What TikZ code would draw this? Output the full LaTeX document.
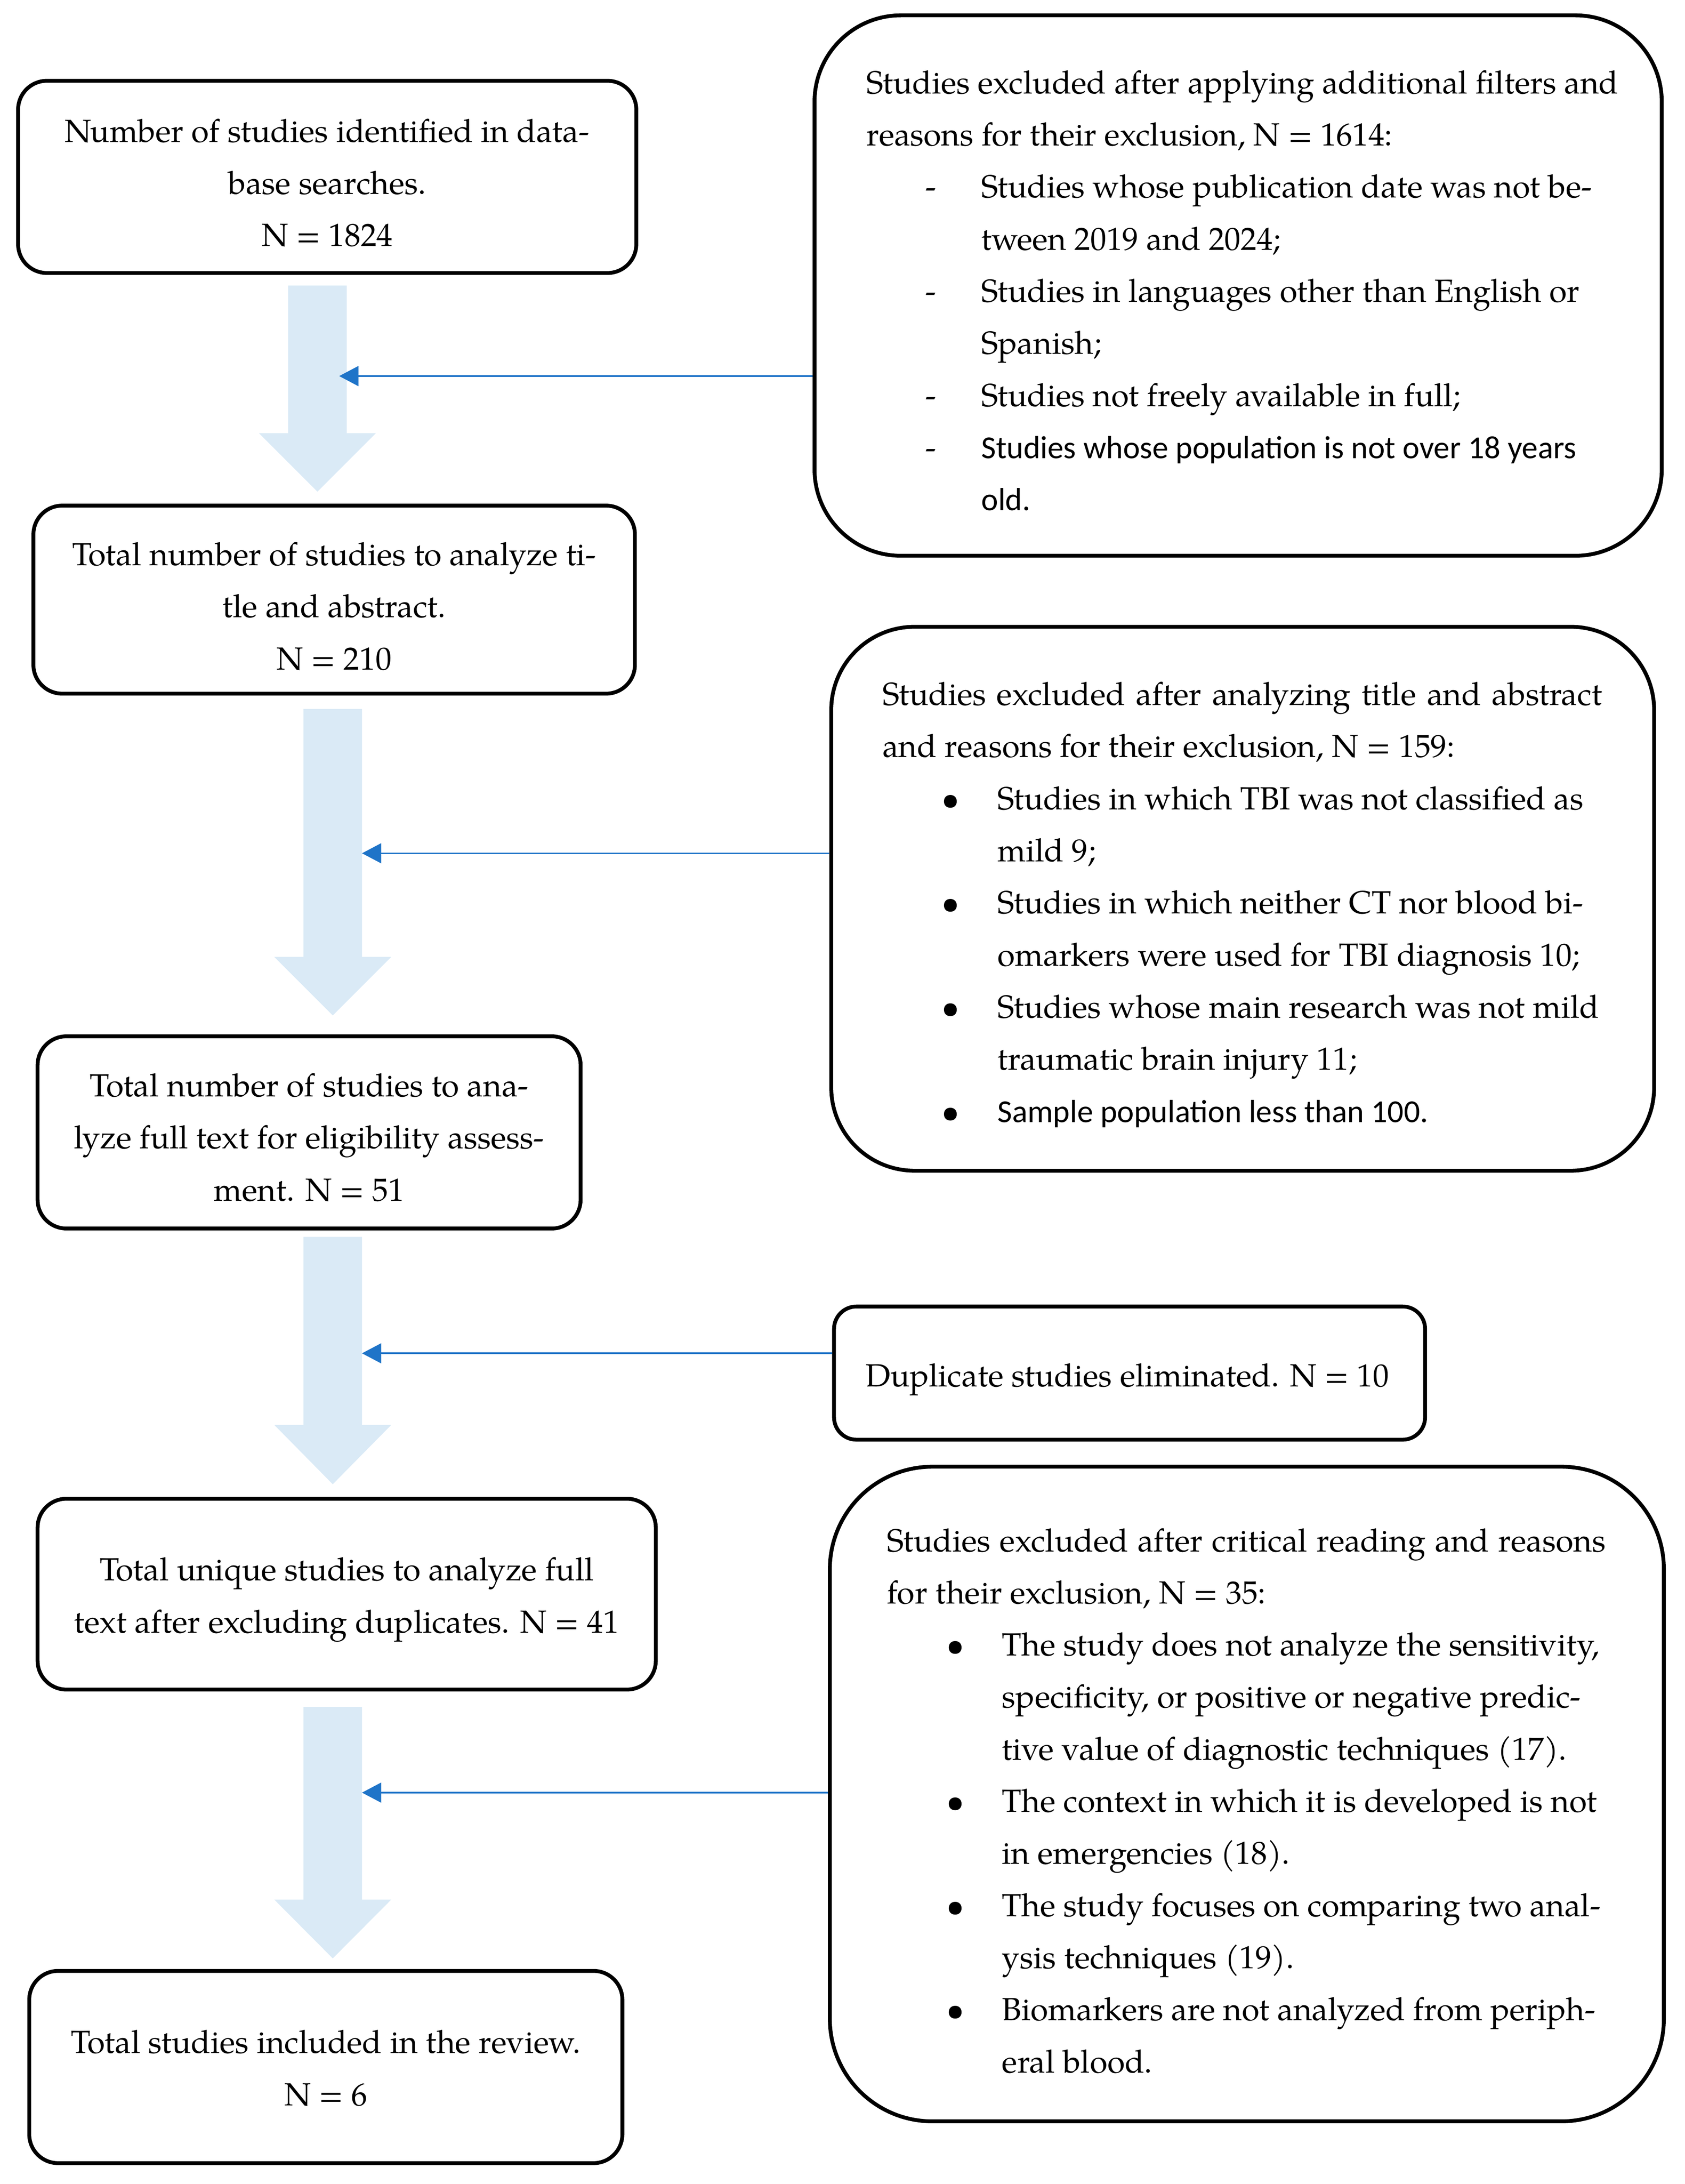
\documentclass[tikz,border=0pt]{standalone}
\usepackage{fontspec}
\setmainfont{texgyrepagella}[Extension=.otf, UprightFont=*-regular, BoldFont=*-bold, ItalicFont=*-italic, BoldItalicFont=*-bolditalic]
\newfontfamily\calibri{Carlito}
\usetikzlibrary{arrows.meta,fit}
\definecolor{flowblue}{HTML}{DAEAF6}
\definecolor{linkblue}{HTML}{1F74C8}
\newcommand\myitem[2]{\hspace*{18.5pt}\makebox[17.4pt][l]{#1}#2}
\newcommand\mycont[1]{\hspace*{35.9pt}#1}
\begin{document}
\begin{tikzpicture}[x=0.4348pt,y=-0.4348pt,
  lbox/.style={draw=black, line width=1.2pt, rounded corners=9pt, inner sep=0pt},
  rbox/.style={draw=black, line width=1.2pt, inner sep=0pt},
  txt/.style={inner sep=0pt, outer sep=0pt, font=\fontsize{10pt}{16.27pt}\selectfont},
  ctxt/.style={txt, align=center, anchor=north},
  ltxt/.style={txt, align=left, anchor=north west},
  flow/.style={fill=flowblue, draw=none},
  link/.style={draw=linkblue, line width=0.5pt, -{Triangle[length=6pt,width=6.2pt]}}]
\useasboundingbox (0,0) rectangle (1210,1568);

% big flow arrows
\fill[flow] (207,205) -- (249,205) -- (249,311) -- (270,311) -- (228,353) -- (186,311) -- (207,311) -- cycle;
\fill[flow] (218,509) -- (260,509) -- (260,687) -- (281,687) -- (239,729) -- (197,687) -- (218,687) -- cycle;
\fill[flow] (218,888) -- (260,888) -- (260,1023) -- (281,1023) -- (239,1065.6) -- (197,1023) -- (218,1023) -- cycle;
\fill[flow] (218,1225.6) -- (260,1225.6) -- (260,1363.8) -- (281,1363.8) -- (239,1406) -- (197,1363.8) -- (218,1363.8) -- cycle;
\coordinate (t1) at (243.6,270);
\coordinate (t2) at (260,612.6);
\coordinate (t3) at (260,971.6);
\coordinate (t4) at (260,1287);

% left boxes
\node[lbox, fit={(13,58)(457,196)}] (a) {};
\node[ctxt] (atx) at (235,75.8) {\strut Number of studies identified in data-\\base searches.\\N = 1824};
\node[lbox, fit={(24,363)(456,498)}] (b) {};
\node[ctxt] (btx) at (240,379.8) {\strut Total number of studies to analyze ti-\\tle and abstract.\\N = 210};
\node[lbox, fit={(27,744)(417,882)}] (c) {};
\node[ctxt] (ctx) at (222,761.1) {\strut Total number of studies to ana-\\lyze full text for eligibility assess-\\ment. N = 51};
\node[lbox, fit={(27,1076)(471,1213)}] (e) {};
\node[ctxt] (etx) at (249,1108.7) {\strut Total unique studies to analyze full\\text after excluding duplicates. N = 41};
\node[lbox, fit={(21,1415)(447,1553)}] (f) {};
\node[ctxt] (ftx) at (234,1448) {\strut Total studies included in the review.\\N = 6};

% right boxes
\node[rbox, rounded corners=27pt, fit={(585,11)(1193.5,399)}] (r1) {};
\node[ltxt] (r1tx) at (622.2,41) {\strut Studies excluded after applying additional filters and\\
reasons for their exclusion, N = 1614:\\
\myitem{-}{Studies whose publication date was not be-}\\
\mycont{tween 2019 and 2024;}\\
\myitem{-}{Studies in languages other than English or}\\
\mycont{Spanish;}\\
\myitem{-}{Studies not freely available in full;}\\
\myitem{-}{{\calibri Studies whose population is not over 18 years}}\\
\mycont{{\calibri old.}}};

\node[rbox, rounded corners=26pt, fit={(597,450)(1188,840.5)}] (r2) {};
\node[ltxt] (r2tx) at (633.8,480.1) {\strut\makebox[224.7pt][s]{Studies excluded after analyzing title and abstract}\\
and reasons for their exclusion, N = 159:\\
\myitem{\textbullet}{Studies in which TBI was not classified as}\\
\mycont{mild 9;}\\
\myitem{\textbullet}{Studies in which neither CT nor blood bi-}\\
\mycont{omarkers were used for TBI diagnosis 10;}\\
\myitem{\textbullet}{Studies whose main research was not mild}\\
\mycont{traumatic brain injury 11;}\\
\myitem{\textbullet}{{\calibri Sample population less than 100.}}};

\node[rbox, rounded corners=7pt, fit={(599,938)(1023.5,1033.6)}] (d) {};
\node[ltxt] (dtx) at (621.7,969.2) {\strut Duplicate studies eliminated. N = 10};

\node[rbox, rounded corners=32pt, fit={(596,1053)(1195,1523)}] (r3) {};
\node[ltxt] (r3tx) at (637.1,1087.7) {\strut\makebox[224.4pt][s]{Studies excluded after critical reading and reasons}\\
for their exclusion, N = 35:\\
\myitem{\textbullet}{The study does not analyze the sensitivity,}\\
\mycont{specificity, or positive or negative predic-}\\
\mycont{tive value of diagnostic techniques (17).}\\
\myitem{\textbullet}{The context in which it is developed is not}\\
\mycont{in emergencies (18).}\\
\myitem{\textbullet}{The study focuses on comparing two anal-}\\
\mycont{ysis techniques (19).}\\
\myitem{\textbullet}{Biomarkers are not analyzed from periph-}\\
\mycont{eral blood.}};

% connectors
\draw[link] (r1.west |- t1) -- (t1);
\draw[link] (r2.west |- t2) -- (t2);
\draw[link] (d.west |- t3) -- (t3);
\draw[link] (r3.west |- t4) -- (t4);
\end{tikzpicture}
\end{document}
